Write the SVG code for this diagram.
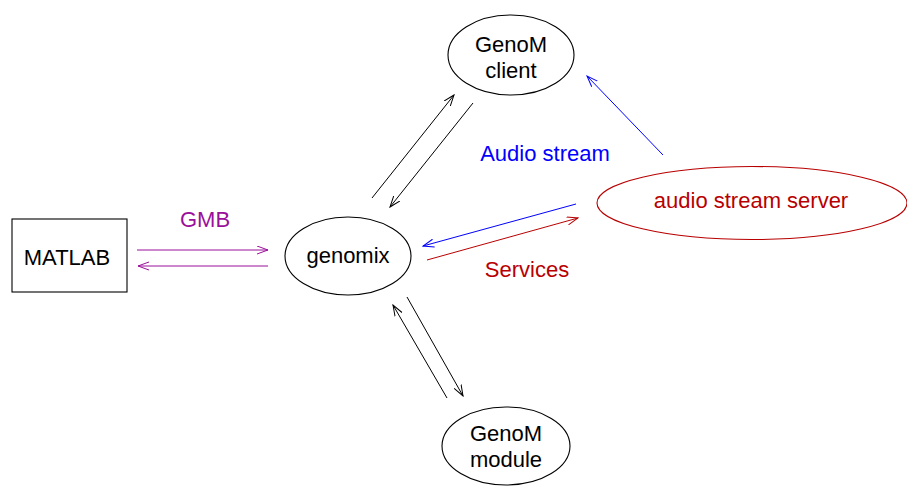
<svg xmlns="http://www.w3.org/2000/svg" width="907" height="486" viewBox="0 0 907 486">
<style>
text{font-family:"Liberation Sans",Arial,sans-serif;font-size:22px;text-anchor:middle}
.node{fill:none;stroke:#000;stroke-width:1.1}
.k{stroke:#000;stroke-width:1;fill:none}
.p{stroke:#9a109a;stroke-width:1;fill:none}
.b{stroke:#0000ff;stroke-width:1;fill:none}
.r{stroke:#b80000;stroke-width:1;fill:none}
</style>
<defs>
<marker id="ak" markerWidth="12" markerHeight="10" refX="11" refY="4.5" orient="auto" markerUnits="userSpaceOnUse"><path d="M0,0.5 L11,4.5 L0,8.5" fill="none" stroke="#000" stroke-width="1"/></marker>
<marker id="ap" markerWidth="12" markerHeight="10" refX="11" refY="4.5" orient="auto" markerUnits="userSpaceOnUse"><path d="M0,0.5 L11,4.5 L0,8.5" fill="none" stroke="#9a109a" stroke-width="1"/></marker>
<marker id="ab" markerWidth="12" markerHeight="10" refX="11" refY="4.5" orient="auto" markerUnits="userSpaceOnUse"><path d="M0,0.5 L11,4.5 L0,8.5" fill="none" stroke="#0000ff" stroke-width="1"/></marker>
<marker id="ar" markerWidth="12" markerHeight="10" refX="11" refY="4.5" orient="auto" markerUnits="userSpaceOnUse"><path d="M0,0.5 L11,4.5 L0,8.5" fill="none" stroke="#b80000" stroke-width="1"/></marker>
</defs>
<rect width="907" height="486" fill="#fff"/>
<g id="matlab"><rect class="node" x="12" y="219" width="115" height="73"/><text x="67" y="265">MATLAB</text></g>
<g id="genomix"><ellipse class="node" cx="348" cy="256" rx="63" ry="39"/><text x="348" y="263">genomix</text></g>
<g id="client"><ellipse class="node" cx="511" cy="55" rx="63" ry="40"/><text x="511" y="52">GenoM</text><text x="511" y="78">client</text></g>
<g id="module"><ellipse class="node" cx="506" cy="446" rx="64" ry="39"/><text x="506" y="441">GenoM</text><text x="506" y="467">module</text></g>
<g id="server"><ellipse cx="752" cy="203" rx="155" ry="36.5" fill="none" stroke="#b80000" stroke-width="1.1"/><text x="751" y="208" fill="#b80000">audio stream server</text></g>
<g id="connectors">
<line class="p" x1="137" y1="250" x2="268" y2="250" marker-end="url(#ap)"/>
<line class="p" x1="268" y1="266" x2="138" y2="266" marker-end="url(#ap)"/>
<line class="k" x1="372" y1="198" x2="454" y2="95" marker-end="url(#ak)"/>
<line class="k" x1="473" y1="103" x2="390" y2="207" marker-end="url(#ak)"/>
<line class="k" x1="447" y1="398" x2="393" y2="305" marker-end="url(#ak)"/>
<line class="k" x1="407" y1="297" x2="463" y2="396" marker-end="url(#ak)"/>
<line class="b" x1="576" y1="204" x2="423" y2="246" marker-end="url(#ab)"/>
<line class="r" x1="427" y1="260" x2="578" y2="218" marker-end="url(#ar)"/>
<line class="b" x1="663" y1="155" x2="587" y2="76" marker-end="url(#ab)"/>
<text x="205" y="227" fill="#9a109a">GMB</text>
<text x="545" y="161" fill="#0000ff">Audio stream</text>
<text x="527" y="277" fill="#b80000">Services</text>
</g>
</svg>
